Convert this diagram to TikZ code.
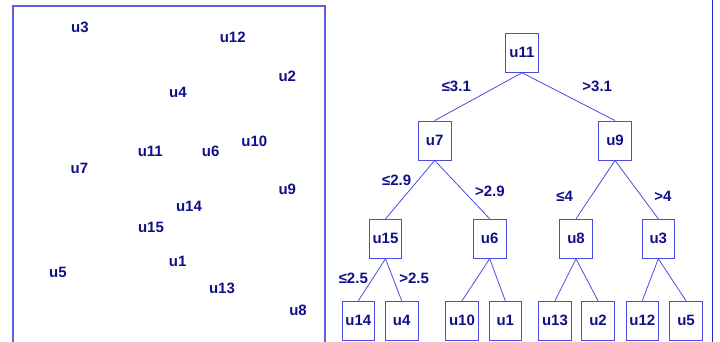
\documentclass[tikz,border=0pt]{standalone}
\usepackage{fontspec}
\setmainfont{Liberation Sans}
\definecolor{navy1}{RGB}{15, 15, 135}
\definecolor{lineblue}{RGB}{75, 75, 225}
\definecolor{rimblue}{RGB}{95, 95, 230}
\definecolor{sepblue}{RGB}{35, 35, 205}
\usetikzlibrary{positioning}

\begin{document}
\begin{tikzpicture}[x=1pt, y=-1pt,
  ubox/.style={draw=lineblue, line width=0.9pt, minimum width=32.5pt, minimum height=39pt, inner sep=1pt, text=navy1, font=\fontsize{15}{17}\selectfont\bfseries},
  upoint/.style={text=navy1, inner sep=0pt, font=\fontsize{15}{17}\selectfont\bfseries},
  cond/.style={text=navy1, inner sep=0pt, font=\fontsize{15}{17}\selectfont\bfseries},
  link/.style={draw=lineblue, line width=0.8pt}
]
  \useasboundingbox (0,0) rectangle (720,342);

  % Scatter panel
  \draw[rimblue, line width=1.1pt] (13,342) -- (13,6) -- (325,6) -- (325,342);
  \node[upoint] (p3) at (80,27) {u3};
  \node[upoint] (p12) at (232.7,37.3) {u12};
  \node[upoint] (p2) at (287.3,76) {u2};
  \node[upoint] (p4) at (178,92.3) {u4};
  \node[upoint] (p10) at (254.3,141.3) {u10};
  \node[upoint] (p11) at (150.3,151) {u11};
  \node[upoint] (p6) at (210.7,151) {u6};
  \node[upoint] (p7) at (79.5,168.7) {u7};
  \node[upoint] (p9) at (287.3,189.3) {u9};
  \node[upoint] (p14) at (189,206.7) {u14};
  \node[upoint] (p15) at (151,227.7) {u15};
  \node[upoint] (p1) at (177.7,261.7) {u1};
  \node[upoint] (p5) at (58,272) {u5};
  \node[upoint] (p13) at (222,288.7) {u13};
  \node[upoint] (p8) at (298,310.7) {u8};

  % Tree
  \node[ubox] (u11) at (522,52.8) {u11};
  \node[ubox] (u7) at (434.7,140.5) {u7};
  \node[ubox] (u9) at (615,140.5) {u9};
  \node[ubox] (u15) at (385.5,238.8) {u15};
  \node[ubox] (u6) at (489.7,238.8) {u6};
  \node[ubox] (u8) at (576,238.8) {u8};
  \node[ubox] (u3) at (658.3,238.8) {u3};
  \node[ubox] (u14) at (358.3,320.7) {u14};
  \node[ubox] (u4) at (401.7,320.7) {u4};
  \node[ubox] (u10) at (462,320.7) {u10};
  \node[ubox] (u1) at (505.3,320.7) {u1};
  \node[ubox] (u13) at (555,320.7) {u13};
  \node[ubox] (u2) at (598,320.7) {u2};
  \node[ubox] (u12) at (642.3,320.7) {u12};
  \node[ubox] (u5) at (686,320.7) {u5};

  \foreach \a/\b in {u11/u7, u11/u9, u7/u15, u7/u6, u9/u8, u9/u3,
                     u15/u14, u15/u4, u6/u10, u6/u1, u8/u13, u8/u2, u3/u12, u3/u5}
    \draw[link] (\a.south) -- (\b.north);

  % Split conditions
  \node[cond] (c1) at (456.3,86) {≤3.1};
  \node[cond] (c2) at (597.2,86) {>3.1};
  \node[cond] (c3) at (396.7,180) {≤2.9};
  \node[cond] (c4) at (489.8,191) {>2.9};
  \node[cond] (c5) at (564.7,196) {≤4};
  \node[cond] (c6) at (662.8,196) {>4};
  \node[cond] (c7) at (353.3,278.3) {≤2.5};
  \node[cond] (c8) at (414.2,278.3) {>2.5};

  \draw[sepblue, line width=1.3pt] (712.5,0) -- (712.5,342);
\end{tikzpicture}
\end{document}
